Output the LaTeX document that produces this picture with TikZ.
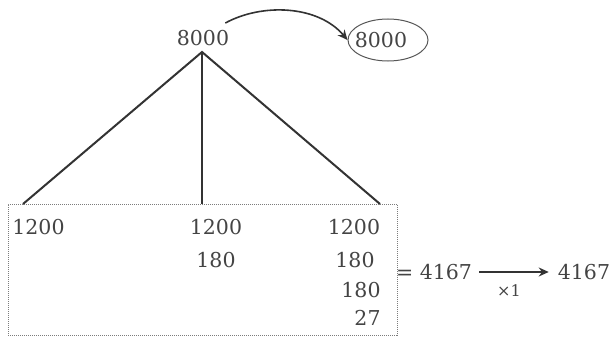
\documentclass[tikz,border=0pt]{standalone}
\usepackage{fontspec}
\setmainfont{DejaVu Serif}
\usetikzlibrary{arrows.meta,shapes.geometric}
\definecolor{txt}{HTML}{444444}
\definecolor{ln}{HTML}{333333}
\tikzset{
  num/.style={inner sep=0pt, text=txt, font=\fontsize{20.5}{24}\selectfont},
  small/.style={inner sep=0pt, text=txt, font=\fontsize{16}{18}\selectfont},
  branch/.style={draw=ln, line width=2pt},
  arr/.style={draw=ln, line width=1.6pt, -{Stealth[length=10pt,width=9pt]}},
}
\begin{document}
\begin{tikzpicture}[x=1pt,y=-1pt]
\useasboundingbox (0,0) rectangle (615,337);
% top
\node[num] (top) at (203,38) {8000};
\node[num] (copy) at (381,40) {8000};
\node[draw=txt!90, line width=1pt, ellipse, minimum width=80pt, minimum height=42pt, inner sep=0pt] (circ) at (388,40) {};
\draw[arr] ([shift={(-4,-7)}]top.north east) .. controls (262,3) and (318,5) .. (circ.west);
% branches
\coordinate (apex) at (202,52);
\coordinate (bl) at (23,204);
\coordinate (bm) at (202,204);
\coordinate (br) at (380,204);
\draw[branch] (bl) -- (apex) -- (br);
\draw[branch] (apex) -- (bm);
% box
\node[draw=txt!70, line width=1pt, densely dotted, minimum width=389pt, minimum height=131pt, inner sep=0pt] (box) at (202.5,269.5) {};
% numbers
\node[num] (a1) at (38.5,227) {1200};
\node[num] (b1) at (216,227) {1200};
\node[num] (b2) at (216,260) {180};
\node[num] (c1) at (354,227) {1200};
\node[num] (c2) at (355,260) {180};
\node[num] (c3) at (361,290) {180};
\node[num] (c4) at (367.5,318) {27};
% result
\node[num] (res) at (434,272) {= 4167};
\node[num] (fin) at (584,272) {4167};
\draw[arr] ([xshift=7pt]res.east) -- ([xshift=-9pt]fin.west);
\node[small] (mul) at (509,291) {×1};
\end{tikzpicture}
\end{document}
